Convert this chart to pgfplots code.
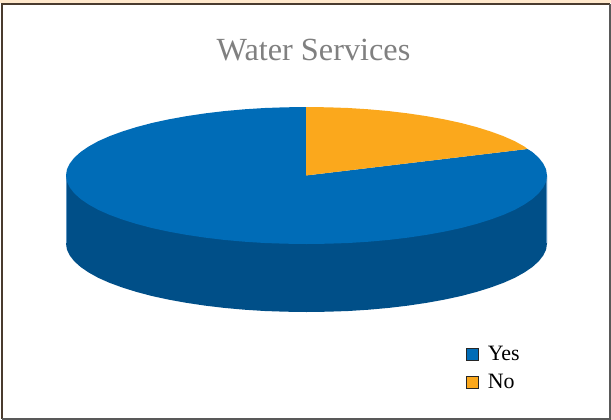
\documentclass[border=0pt]{standalone}
\usepackage{fontspec}
\setmainfont{Liberation Serif}
\usepackage{pgfplots}
\pgfplotsset{compat=1.18}
\definecolor{pieblue}{HTML}{006CB7}
\definecolor{pieside}{HTML}{004F88}
\definecolor{pieedge}{HTML}{5C93C0}
\definecolor{pieorange}{HTML}{FBA81C}
\definecolor{frameline}{HTML}{4A3B2E}
\definecolor{framepeach}{HTML}{FFE8CC}
\begin{document}
\begin{tikzpicture}
\begin{axis}[
  scale only axis,
  width=611bp, height=420bp,
  xmin=0, xmax=611, ymin=0, ymax=420,
  y dir=reverse,
  axis lines=none,
  no markers,
  legend style={draw=none, fill=none, at={(axis cs:466,346.5)}, anchor=north west,
    font=\fontsize{22}{22}\selectfont, row sep=11.5pt, inner sep=0pt, outer sep=0pt,
    /tikz/every even column/.append style={column sep=13pt},
    nodes={inner xsep=3pt, inner ysep=0pt, text height=14.5pt, text depth=2pt}},
  legend image code/.code={\draw[#1,draw=black!85,line width=0.8bp] (3bp,-6bp) rectangle (15bp,6bp);},
  legend cell align=left,
]
% page and frame
\addplot[forget plot,draw=none,fill=white] coordinates {(0,0)(611,0)(611,420)(0,420)};
\addplot[forget plot,draw=none,fill=framepeach] coordinates {(0,0)(611,0)(611,3)(0,3)};
\addplot[forget plot,frameline,line width=1.8bp] coordinates {(1.7,418.6)(1.7,3.9)(609.8,3.9)};
\addplot[forget plot,black!65,line width=1.8bp] coordinates {(609.8,3.9)(609.8,418.6)(1.7,418.6)};
% side wall
\addplot[forget plot,draw=none,fill=pieside] coordinates {
(66.0,175.5)(66.0,243.5)(66.9,249.5)(69.7,255.4)(74.2,261.2)(80.5,266.9)(88.5,272.4)(98.2,277.8)
(109.5,282.8)(122.3,287.5)(136.4,291.9)(151.9,296.0)(168.5,299.6)(186.2,302.8)(204.9,305.6)
(224.2,307.9)(244.3,309.7)(264.7,311.0)(285.5,311.7)(306.5,312.0)(327.5,311.7)(348.3,311.0)
(368.7,309.7)(388.8,307.9)(408.1,305.6)(426.8,302.8)(444.5,299.6)(461.1,296.0)(476.6,291.9)
(490.7,287.5)(503.5,282.8)(514.8,277.8)(524.5,272.4)(532.5,266.9)(538.8,261.2)(543.3,255.4)
(546.1,249.5)(547.0,243.5)(547.0,175.5)};
\addplot[forget plot,pieedge,line width=0.7bp] coordinates {(66.3,176)(66.3,243)};
\addplot[forget plot,pieedge,line width=0.7bp] coordinates {(546.7,176)(546.7,243)};
% Yes
\addplot[draw=none,fill=pieblue] coordinates {
(306.0,175.5)(527.5,149.0)(532.5,152.1)(538.8,157.8)(543.3,163.6)(546.1,169.5)(547.0,175.5)
(546.1,181.5)(543.3,187.4)(538.8,193.2)(532.5,198.9)(524.5,204.4)(514.8,209.8)(503.5,214.8)
(490.7,219.5)(476.6,223.9)(461.1,228.0)(444.5,231.6)(426.8,234.8)(408.1,237.6)(388.8,239.9)
(368.7,241.7)(348.3,243.0)(327.5,243.7)(306.5,244.0)(285.5,243.7)(264.7,243.0)(244.3,241.7)
(224.2,239.9)(204.9,237.6)(186.2,234.8)(168.5,231.6)(151.9,228.0)(136.4,223.9)(122.3,219.5)
(109.5,214.8)(98.2,209.8)(88.5,204.4)(80.5,198.9)(74.2,193.2)(69.7,187.4)(66.9,181.5)(66.0,175.5)
(66.9,169.5)(69.7,163.6)(74.2,157.8)(80.5,152.1)(88.5,146.6)(98.2,141.2)(109.5,136.2)(122.3,131.5)
(136.4,127.1)(151.9,123.0)(168.5,119.4)(186.2,116.2)(204.9,113.4)(224.2,111.1)(244.3,109.3)
(264.7,108.0)(285.5,107.3)(306.0,107.0)};
% No
\addplot[draw=none,fill=pieorange] coordinates {
(306.0,175.5)(306.0,107.0)(327.5,107.3)(348.3,108.0)(368.7,109.3)(388.8,111.1)(408.1,113.4)
(426.8,116.2)(444.5,119.4)(461.1,123.0)(476.6,127.1)(490.7,131.5)(503.5,136.2)(514.8,141.2)
(524.5,146.6)(527.5,149.0)};
\legend{\hspace*{6pt}Yes,\hspace*{6pt}No}
\node[text=black!50,anchor=base,font=\fontsize{32.4}{32.4}\selectfont,inner sep=0pt] at (axis cs:313.5,60) {Water Services};
\end{axis}
\end{tikzpicture}
\end{document}
